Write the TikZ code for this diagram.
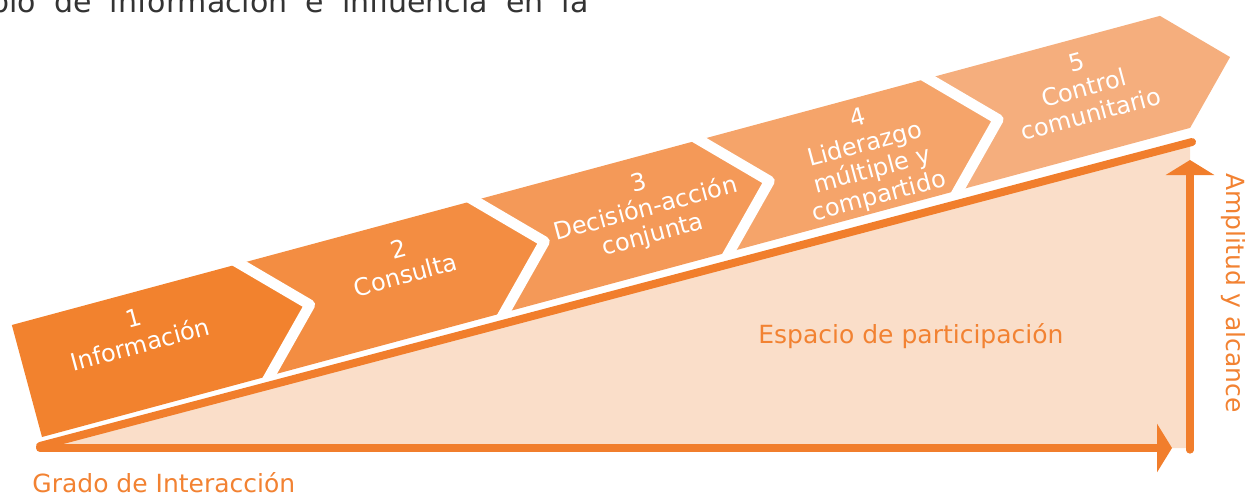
\documentclass[tikz,border=0pt]{standalone}
\usepackage{fontspec}
\setmainfont{DejaVu Sans}
\usetikzlibrary{arrows.meta}
\definecolor{cA}{RGB}{242,130,46}
\definecolor{cB}{RGB}{243,141,66}
\definecolor{cC}{RGB}{244,153,88}
\definecolor{cD}{RGB}{245,164,106}
\definecolor{cE}{RGB}{245,174,125}
\definecolor{pale}{RGB}{250,222,201}
\definecolor{oline}{RGB}{241,126,44}
\definecolor{otext}{RGB}{242,130,50}
\definecolor{dgray}{RGB}{51,51,51}
\tikzset{
  sepline/.style={draw=white, line width=5.3pt, line join=round, line cap=round},
  chevtext/.style={text=white, align=center, font=\fontsize{12}{13.4}\selectfont, rotate=15.07, inner sep=0pt},
  labeltext/.style={text=otext, font=\fontsize{12.5}{15}\selectfont, inner sep=0pt},
  axisline/.style={draw=oline, line width=4pt, line cap=round},
  axisarrow/.style={axisline, -{Triangle[length=7.5pt, width=24pt]}}
}
\begin{document}
\begin{tikzpicture}[x=0.5pt,y=0.5pt]
\useasboundingbox (0,0) rectangle (1245,494);
% pale participation space
\coordinate (pl) at (44,46);
\coordinate (pt) at (1190,350);
\coordinate (pr) at (1190,46);
\fill[pale] (pl) -- (pt) -- (pr) -- cycle;
% chevron band
\begin{scope}[shift={(42,57)}, rotate=15.07]
  \fill[cA] (0,0) -- (236,0) -- (293,58) -- (236,116) -- (0,116) -- cycle;
  \fill[cB] (236,0) -- (479,0) -- (536,58) -- (479,116) -- (236,116) -- (293,58) -- cycle;
  \fill[cC] (479,0) -- (712,0) -- (769,58) -- (712,116) -- (479,116) -- (536,58) -- cycle;
  \fill[cD] (712,0) -- (949,0) -- (1006,58) -- (949,116) -- (712,116) -- (769,58) -- cycle;
  \fill[cE] (949,0) -- (1189,0) -- (1246,58) -- (1189,116) -- (949,116) -- (1006,58) -- cycle;
  \foreach \s in {236,479,712,949}{
    \draw[sepline] (\s-6,-6) -- (\s+57,58) -- (\s-6,122);
  }
\end{scope}
% chevron texts
\node[chevtext] (t1) at (137,162.5) {1\\Información};
\node[chevtext] (t2) at (402,232) {2\\Consulta};
\node[chevtext] (t3) at (646,284) {3\\Decisión-acción\\conjunta};
\node[chevtext] (t4) at (869,335.5) {4\\Liderazgo\\múltiple y\\compartido};
\node[chevtext] (t5) at (1084,406) {5\\Control\\comunitario};
% axes
\coordinate (o) at (40,46);
\coordinate (d1) at (40,48);
\coordinate (d2) at (1192,352);
\coordinate (hx) at (1172,46);
\coordinate (v0) at (1190,44);
\coordinate (v1) at (1190,334);
\draw[axisline] (d1) -- (d2);
\draw[axisarrow] (o) -- (hx);
\draw[axisarrow, line width=3.6pt] (v0) -- (v1);
% labels
\node[labeltext, anchor=base west] (grado) at (32,1.5) {Grado de Interacción};
\node[labeltext, anchor=base west] (esp) at (758,151) {Espacio de participación};
\node[labeltext, rotate=-90] (amp) at (1233,201) {Amplitud y alcance};
% cut-off text at top
\node[text=dgray, anchor=base west, inner sep=0pt, font=\fontsize{15}{18}\selectfont] (top) at (-10,481.5) {\makebox[299pt][s]{bio de información e influencia en la}};
\end{tikzpicture}
\end{document}
